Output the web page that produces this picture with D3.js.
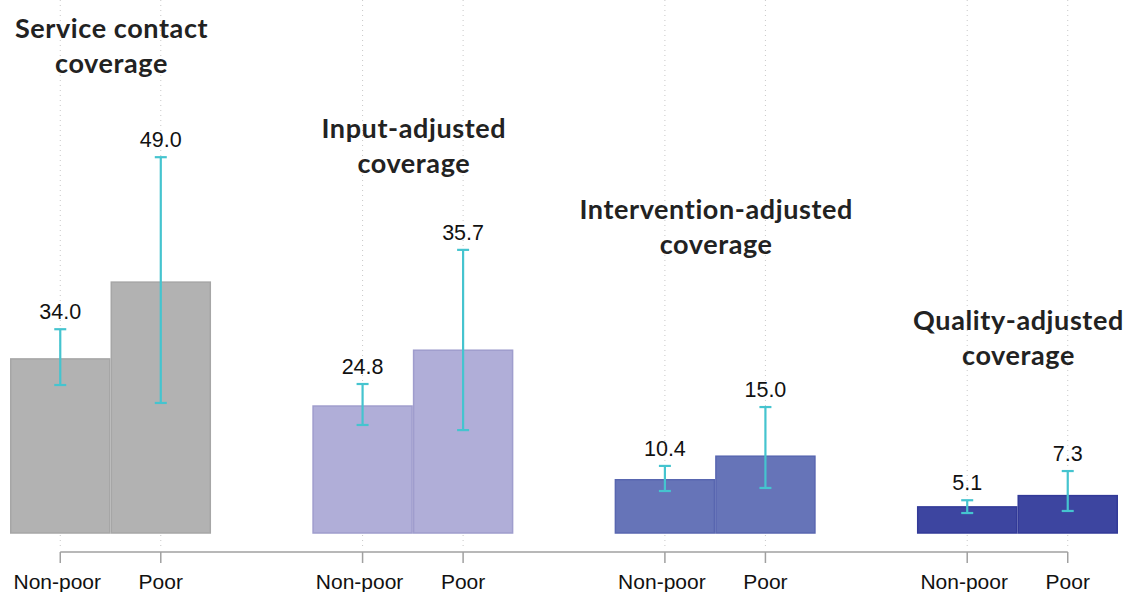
<!DOCTYPE html>
<html>
<head>
<meta charset="utf-8">
<script src="https://cdn.jsdelivr.net/npm/d3@7"></script>
<style>
  body { margin: 0; background: #fff; }
  svg { display: block; }
</style>
</head>
<body>
<svg id="chart"></svg>
<script>
// data
const groups = ["Service contact coverage", "Input-adjusted coverage", "Intervention-adjusted coverage", "Quality-adjusted coverage"];
const titleLines = [["Service contact", "coverage"], ["Input-adjusted", "coverage"], ["Intervention-adjusted", "coverage"], ["Quality-adjusted", "coverage"]];
const subgroups = ["Non-poor", "Poor"];
const nonPoor = [34.0, 24.8, 10.4, 5.1];
const poor = [49.0, 35.7, 15.0, 7.3];
const nonPoorLow = [28.9, 21.1, 8.2, 3.9];
const nonPoorHigh = [39.8, 29.1, 13.1, 6.4];
const poorLow = [25.4, 20.1, 8.8, 4.3];
const poorHigh = [73.4, 55.3, 24.6, 12.1];

// layout / style
const fills = ["#b2b2b2", "#b0aed8", "#6674b8", "#3d45a0"];
const strokes = ["#a6a6a6", "#9f9dcd", "#5866b0", "#323a98"];
const titleBaseline = [38, 138, 219, 330];
const errColor = "#45c4cf";

const width = 1123, height = 592;
const svg = d3.select("#chart").attr("width", width).attr("height", height);

const x0 = d3.scaleBand().domain(groups).range([10, 1118]).paddingInner(0.335).paddingOuter(0);
const x1 = d3.scaleBand().domain(subgroups).range([0, x0.bandwidth()]).padding(0);
const y = d3.scaleLinear().domain([0, 100]).range([533, 21]);

const rows = [];
groups.forEach((g, i) => {
  rows.push({g, i, s: "Non-poor", v: nonPoor[i], lo: nonPoorLow[i], hi: nonPoorHigh[i]});
  rows.push({g, i, s: "Poor", v: poor[i], lo: poorLow[i], hi: poorHigh[i]});
});
const cx = d => x0(d.g) + x1(d.s) + x1.bandwidth() / 2;

// dotted gridlines
svg.append("g").selectAll("line")
  .data(rows).join("line")
  .attr("x1", cx).attr("x2", cx)
  .attr("y1", 0).attr("y2", 546)
  .attr("stroke", "#c8c8c8")
  .attr("stroke-width", 1)
  .attr("stroke-dasharray", "1,4");

// bars
svg.append("g").selectAll("rect")
  .data(rows).join("rect")
  .attr("x", d => x0(d.g) + x1(d.s) + 0.75)
  .attr("width", x1.bandwidth() - 1.5)
  .attr("y", d => y(d.v))
  .attr("height", d => y(0) - y(d.v))
  .attr("fill", d => fills[d.i])
  .attr("stroke", d => strokes[d.i])
  .attr("stroke-width", 1.5);

// error bars
const err = svg.append("g").attr("stroke", errColor).attr("stroke-width", 2.2);
err.selectAll(".v").data(rows).join("line")
  .attr("x1", cx).attr("x2", cx)
  .attr("y1", d => y(d.lo)).attr("y2", d => y(d.hi));
err.selectAll(".t").data(rows).join("line")
  .attr("x1", d => cx(d) - 6).attr("x2", d => cx(d) + 6)
  .attr("y1", d => y(d.hi)).attr("y2", d => y(d.hi));
err.selectAll(".b").data(rows).join("line")
  .attr("x1", d => cx(d) - 6).attr("x2", d => cx(d) + 6)
  .attr("y1", d => y(d.lo)).attr("y2", d => y(d.lo));

// value labels
svg.append("g").selectAll("text")
  .data(rows).join("text")
  .attr("x", cx)
  .attr("y", d => y(d.hi) - 10)
  .attr("text-anchor", "middle")
  .attr("font-family", "Liberation Sans, Arial, sans-serif")
  .attr("font-size", 21.5)
  .attr("fill", "#111")
  .text(d => d.v.toFixed(1));

// axis
const axisY = 552;
svg.append("line")
  .attr("x1", cx(rows[0])).attr("x2", cx(rows[rows.length - 1]))
  .attr("y1", axisY).attr("y2", axisY)
  .attr("stroke", "#a0a0a0").attr("stroke-width", 1.5);
svg.append("g").selectAll("line")
  .data(rows).join("line")
  .attr("x1", cx).attr("x2", cx)
  .attr("y1", axisY).attr("y2", axisY + 11)
  .attr("stroke", "#a0a0a0").attr("stroke-width", 1.5);
svg.append("g").selectAll("text")
  .data(rows).join("text")
  .attr("x", d => cx(d) - (d.s === "Non-poor" ? 3 : 0))
  .attr("y", 589)
  .attr("text-anchor", "middle")
  .attr("font-family", "Liberation Sans, Arial, sans-serif")
  .attr("font-size", 21)
  .attr("fill", "#111")
  .text(d => d.s);

// group titles
groups.forEach((g, i) => {
  const t = svg.append("text")
    .attr("text-anchor", "middle")
    .attr("font-family", "Lato, sans-serif")
    .attr("font-weight", "bold")
    .attr("font-size", 27)
    .attr("letter-spacing", 0.6)
    .attr("fill", "#222");
  titleLines[i].forEach((line, k) => {
    t.append("tspan")
      .attr("x", x0(g) + x0.bandwidth() / 2 + 1)
      .attr("y", titleBaseline[i] + k * 35)
      .text(line);
  });
});
</script>
</body>
</html>
